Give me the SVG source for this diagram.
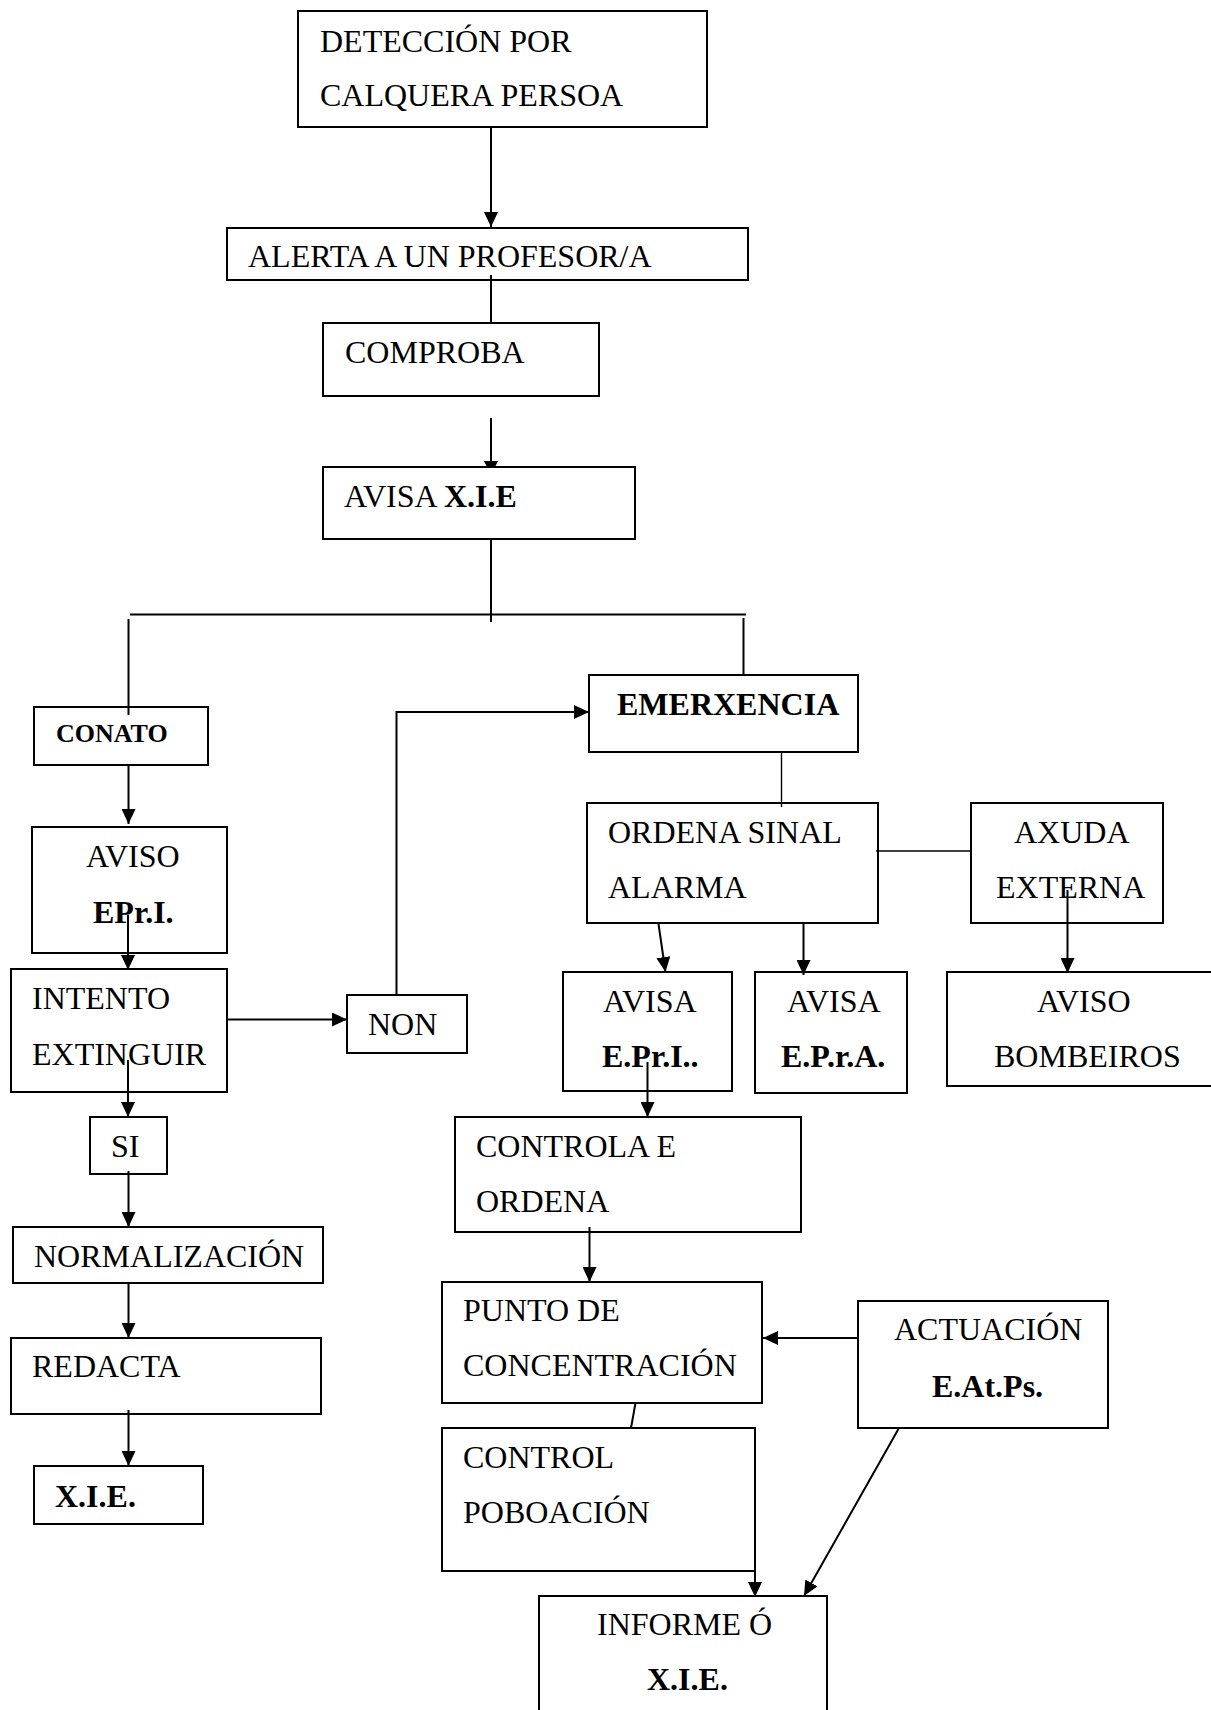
<svg xmlns="http://www.w3.org/2000/svg" width="1211" height="1710" viewBox="0 0 1211 1710">
<style>
rect{fill:#fff;stroke:#000;stroke-width:2}
text{font-family:"Liberation Serif","Times New Roman",serif;font-size:32px;fill:#000}
.b{font-weight:bold}
.c line,.c polyline{stroke:#000;stroke-width:2;fill:none}
.c .t{stroke-width:1.4}
.c .a{marker-end:url(#ah)}
</style>
<defs>
<marker id="ah" viewBox="0 0 15 14" refX="15" refY="7" markerWidth="15" markerHeight="14" orient="auto" markerUnits="userSpaceOnUse">
<path d="M0,0 L15,7 L0,14 z" fill="#000"/>
</marker>
</defs>
<rect x="0" y="0" width="1211" height="1710" style="stroke:none"/>

<g id="n-deteccion"><rect x="298" y="11" width="409" height="116"/><text x="320" y="52">DETECCIÓN POR</text><text x="320" y="106">CALQUERA PERSOA</text></g>
<g id="n-alerta"><rect x="227" y="228" width="521" height="52"/><text x="248" y="267">ALERTA A UN PROFESOR/A</text></g>
<g id="n-comproba"><rect x="323" y="323" width="276" height="73"/><text x="345" y="363">COMPROBA</text></g>
<g id="n-avisa-xie"><rect x="323" y="467" width="312" height="72"/><text x="344" y="507">AVISA <tspan class="b">X.I.E</tspan></text></g>
<g id="n-emerxencia"><rect x="589" y="675" width="269" height="77"/><text class="b" x="617" y="715">EMERXENCIA</text></g>
<g id="n-conato"><rect x="34" y="707" width="174" height="58"/><text class="b" x="56" y="742" style="font-size:26px">CONATO</text></g>
<g id="n-aviso-epri"><rect x="32" y="827" width="195" height="126"/><text x="86" y="867">AVISO</text><text class="b" x="93" y="923">EPr.I.</text></g>
<g id="n-intento"><rect x="11" y="969" width="216" height="123"/><text x="32" y="1009">INTENTO</text><text x="32" y="1065">EXTINGUIR</text></g>
<g id="n-non"><rect x="347" y="995" width="120" height="58"/><text x="368" y="1035">NON</text></g>
<g id="n-si"><rect x="90" y="1117" width="77" height="57"/><text x="111" y="1157">SI</text></g>
<g id="n-normalizacion"><rect x="13" y="1227" width="310" height="56"/><text x="34" y="1267">NORMALIZACIÓN</text></g>
<g id="n-redacta"><rect x="11" y="1338" width="310" height="76"/><text x="32" y="1377">REDACTA</text></g>
<g id="n-xie"><rect x="34" y="1466" width="169" height="58"/><text class="b" x="55" y="1507">X.I.E.</text></g>
<g id="n-ordena"><rect x="587" y="803" width="291" height="120"/><text x="608" y="843">ORDENA SINAL</text><text x="608" y="898">ALARMA</text></g>
<g id="n-axuda"><rect x="971" y="803" width="192" height="120"/><text x="1014" y="843">AXUDA</text><text x="996" y="898">EXTERNA</text></g>
<g id="n-avisa-epri"><rect x="563" y="972" width="169" height="119"/><text x="603" y="1012">AVISA</text><text class="b" x="602" y="1067">E.Pr.I..</text></g>
<g id="n-avisa-epra"><rect x="755" y="972" width="152" height="121"/><text x="787" y="1012">AVISA</text><text class="b" x="781" y="1067">E.P.r.A.</text></g>
<g id="n-bombeiros"><rect x="947" y="972" width="272" height="114"/><text x="1037" y="1012">AVISO</text><text x="994" y="1067">BOMBEIROS</text></g>
<g id="n-controla"><rect x="455" y="1117" width="346" height="115"/><text x="476" y="1157">CONTROLA E</text><text x="476" y="1212">ORDENA</text></g>
<g id="n-punto"><rect x="442" y="1282" width="320" height="121"/><text x="463" y="1321">PUNTO DE</text><text x="463" y="1376">CONCENTRACIÓN</text></g>
<g id="n-actuacion"><rect x="858" y="1301" width="250" height="127"/><text x="894" y="1340">ACTUACIÓN</text><text class="b" x="932" y="1397">E.At.Ps.</text></g>
<g id="n-control"><rect x="442" y="1428" width="313" height="143"/><text x="463" y="1468">CONTROL</text><text x="463" y="1523">POBOACIÓN</text></g>
<g id="n-informe"><rect x="539" y="1596" width="288" height="130"/><text x="597" y="1635">INFORME <tspan x="749">Ó</tspan></text><text class="b" x="647" y="1690">X.I.E.</text></g>

<g id="connectors" class="c">
<line class="a" x1="491" y1="128" x2="491" y2="227"/>
<line x1="491" y1="275" x2="491" y2="323"/>
<line x1="491" y1="418" x2="491" y2="466"/>
<polygon points="484,461 498,461 495,467 487,467" fill="#000"/>
<line x1="491" y1="539" x2="491" y2="622"/>
<line x1="130" y1="614.5" x2="746" y2="614.5"/>
<line x1="128.5" y1="619" x2="128.5" y2="715"/>
<line x1="743.5" y1="618" x2="743.5" y2="675"/>
<line class="a" x1="128.5" y1="765" x2="128.5" y2="824"/>
<line class="a" x1="128" y1="915" x2="128" y2="970"/>
<line class="a" x1="227" y1="1019.5" x2="347" y2="1019.5"/>
<polyline class="a" points="396.5,995 396.5,712 589,712"/>
<line class="a" x1="128" y1="1060" x2="128" y2="1117"/>
<line class="a" x1="128.5" y1="1171" x2="128.5" y2="1227"/>
<line class="a" x1="128.5" y1="1282" x2="128.5" y2="1338"/>
<line class="a" x1="128.5" y1="1410" x2="128.5" y2="1466"/>
<line class="t" x1="781.5" y1="751" x2="781.5" y2="807"/>
<line class="t" x1="876" y1="851" x2="971" y2="851"/>
<line class="a" x1="658.5" y1="924" x2="665.5" y2="972"/>
<line class="a" x1="803.5" y1="923" x2="803.5" y2="975"/>
<line class="a" x1="1067.5" y1="890" x2="1067.5" y2="973"/>
<line class="a" x1="647.5" y1="1062" x2="647.5" y2="1117"/>
<line class="a" x1="589.5" y1="1227" x2="589.5" y2="1282"/>
<line class="a" x1="858" y1="1338" x2="763" y2="1338"/>
<line x1="635.5" y1="1403" x2="631" y2="1428"/>
<line class="a" x1="755" y1="1571" x2="755" y2="1597"/>
<line class="a" x1="899" y1="1428" x2="804" y2="1596"/>
</g>
</svg>
